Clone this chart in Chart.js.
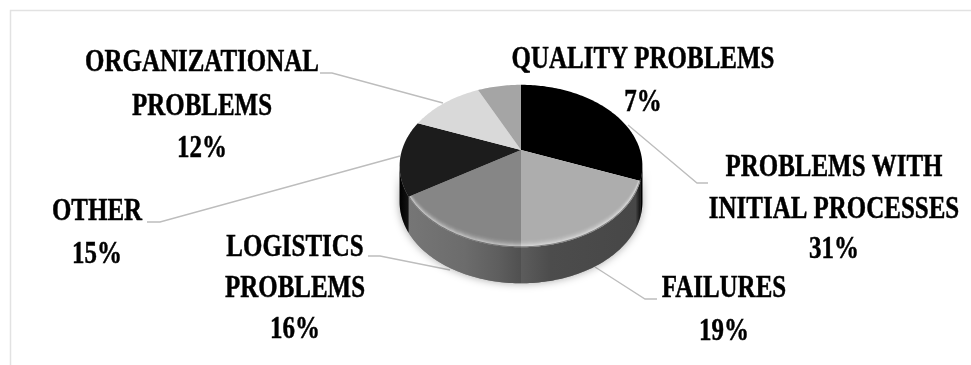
<!DOCTYPE html>
<html><head><meta charset="utf-8">
<style>html,body{margin:0;padding:0;background:#fff}canvas{display:block;filter:blur(0.55px)}</style>
<script src="https://cdn.jsdelivr.net/npm/chart.js@4"></script>
</head><body><canvas id="c" width="971" height="365"></canvas>
<script>
const categories = ['PROBLEMS WITH\nINITIAL PROCESSES','FAILURES','LOGISTICS\nPROBLEMS','OTHER','ORGANIZATIONAL\nPROBLEMS','QUALITY PROBLEMS'];
const shares = [31,19,16,15,12,7];
const topColors = ['#000000','#adadad','#868686','#1c1c1c','#d9d9d9','#a5a5a5'];
const sideStops = [[[0,'#000'],[1,'#000']],[[0,'#5c5c5c'],[.25,'#4c4c4c'],[.96,'#474747'],[1,'#111']],[[0,'#767676'],[.5,'#6c6c6c'],[.8,'#5e5e5e'],[1,'#505050']],[[0,'#000'],[1,'#141414']],[[0,'#888'],[1,'#888']],[[0,'#888'],[1,'#888']]];
const labelSpots = [
 {x:834,y:[176,218,258],line:[[708,183],[697,183],[628,125]]},
 {x:724,y:[297,340],line:[[657,299],[645,299],[595,267]]},
 {x:295,y:[256,297,338],line:[[368,256],[380,256],[450,270]]},
 {x:97,y:[220,263],line:[[147,222],[160,222],[400,156]]},
 {x:202,y:[71,115,157],line:[[320,73],[332,73],[443,103]]},
 {x:643,y:[68,111],line:[]}
];
const K=0.1975, YS=0.656, DEPTH=36, HORIZON=Math.acos(-K);
function proj(el,t,dy){const w=1+K*Math.cos(t);return [el.x+el.outerRadius*Math.sin(t)/w, el.y-el.outerRadius*YS*Math.cos(t)/w+(dy||0)];}
function rim(ctx,el,a,b,dy,move){const n=Math.max(2,Math.ceil(Math.abs(b-a)/0.02));for(let i=0;i<=n;i++){const p=proj(el,a+(b-a)*i/n,dy);(i===0&&move)?ctx.moveTo(p[0],p[1]):ctx.lineTo(p[0],p[1]);}}
Chart.ArcElement.prototype.draw=function(ctx){
  const a=this.startAngle+Math.PI/2,b=this.endAngle+Math.PI/2,idx=this.$context?this.$context.dataIndex:0;
  const lo=Math.max(a,HORIZON),hi=Math.min(b,2*Math.PI-HORIZON);
  ctx.save();
  if(hi>lo){
    const p0=proj(this,lo),p1=proj(this,hi);
    const g=ctx.createLinearGradient(p1[0],0,p0[0],0);
    const dir=sideStops[idx];
    dir.forEach(s=>g.addColorStop(s[0],s[1]));
    ctx.fillStyle=g;ctx.beginPath();rim(ctx,this,lo,hi,0,true);rim(ctx,this,hi,lo,DEPTH,false);ctx.closePath();ctx.fill();
  }
  ctx.beginPath();ctx.moveTo(this.x,this.y);rim(ctx,this,a,b,0,false);ctx.closePath();
  ctx.fillStyle=this.options.backgroundColor;ctx.fill();
  if(hi>lo&&(idx===1||idx===2)){
    ctx.clip();
    for(let i=0;i<7;i++){ctx.beginPath();rim(ctx,this,lo,hi,-i-1,true);ctx.lineWidth=2;
      ctx.strokeStyle=`rgba(255,255,255,${[.3,.24,.17,.11,.07,.04,.02][i]})`;ctx.stroke();}
    ctx.beginPath();rim(ctx,this,lo,hi,0,true);ctx.lineWidth=2;ctx.strokeStyle='rgba(60,60,60,.5)';ctx.stroke();
  }
  ctx.restore();
};
const decor={id:'decor',
 beforeDatasetsDraw(chart){const ctx=chart.ctx,el=chart.getDatasetMeta(0).data[0];
  ctx.save();ctx.strokeStyle='#e2e2e2';ctx.lineWidth=1.5;ctx.beginPath();ctx.moveTo(10.5,365);ctx.lineTo(10.5,10.5);ctx.lineTo(971,10.5);ctx.stroke();
  ctx.strokeStyle='#bdbdbd';ctx.lineWidth=1.3;
  labelSpots.forEach(s=>{if(!s.line.length)return;ctx.beginPath();s.line.forEach((p,i)=>i?ctx.lineTo(p[0],p[1]):ctx.moveTo(p[0],p[1]));ctx.stroke();});
  ctx.shadowColor='rgba(0,0,0,.35)';ctx.shadowBlur=9;ctx.fillStyle='#888';ctx.beginPath();rim(ctx,el,HORIZON,2*Math.PI-HORIZON,DEPTH,true);rim(ctx,el,2*Math.PI-HORIZON,HORIZON,0,false);ctx.closePath();ctx.fill();
  ctx.restore();},
 afterDatasetsDraw(chart){const ctx=chart.ctx;ctx.save();ctx.fillStyle='#000';ctx.strokeStyle='#000';ctx.lineWidth=0.5;ctx.font='bold 31px "Liberation Serif"';ctx.textAlign='center';ctx.textBaseline='alphabetic';
  categories.forEach((c,i)=>{const s=labelSpots[i];const lines=c.split('\n').concat(shares[i]+'%');
   lines.forEach((t,j)=>{ctx.save();ctx.translate(s.x,s.y[j]);ctx.scale(0.805,1);ctx.fillText(t,0,0);ctx.strokeText(t,0,0);ctx.restore();});});
  ctx.restore();}
};
new Chart(document.getElementById('c'),{type:'pie',
 data:{labels:categories,datasets:[{data:shares,backgroundColor:topColors,borderWidth:0}]},
 options:{responsive:false,animation:false,radius:119,layout:{padding:{left:71,right:0,top:0,bottom:65}},
  plugins:{legend:{display:false},tooltip:{enabled:false}}},
 plugins:[decor]});
</script></body></html>
